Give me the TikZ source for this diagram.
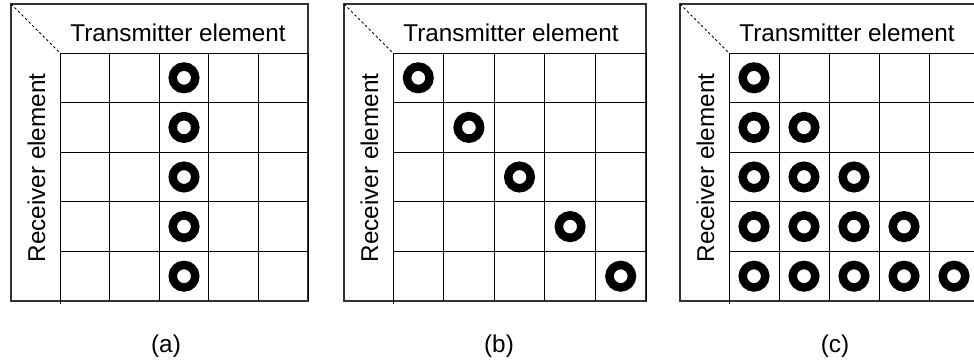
\documentclass[tikz,border=0pt]{standalone}
\usepackage{fontspec}
\setmainfont{Liberation Sans}
\tikzset{
  outerbox/.style={draw=black!80, line width=1.4pt},
  gridline/.style={draw=black, line width=0.9pt},
  diagline/.style={draw=black, line width=0.9pt, dash pattern=on 2.5pt off 2.5pt},
  ring/.style={circle, draw=black, line width=8.5pt, minimum size=22.5pt, inner sep=0pt},
  lbl/.style={font=\fontsize{24.3}{28}\selectfont, inner sep=0pt},
}
\newcommand\panelframe[3]{% #1 = outer left x, #2 = cell width, #3 = id
  \draw[outerbox] (#1,4) rectangle (#1+49+5*#2,301);
  \draw[diagline] (#1,4) -- (#1+49,53);
  \foreach \i in {1,...,5}{
    \draw[gridline] (#1+49+\i*#2,53) -- (#1+49+\i*#2,301);
  }
  \draw[gridline] (#1+49,53) -- (#1+49,304);
  \foreach \j in {0,...,4}{
    \draw[gridline] (#1+49,53+\j*49.6) -- (#1+49+5*#2,53+\j*49.6);
  }
  \node[lbl, anchor=base] (tx-#3) at (#1+167,42) {Transmitter element};
  \node[lbl, anchor=base, rotate=90] (rx-#3) at (#1+34,168) {Receiver element};
  \node[lbl, anchor=base] (cap-#3) at (#1+155,352) {(#3)};
}
\newcommand\ringat[5]{% #1 = outer left x, #2 = cell width, #3 = row, #4 = col, #5 = id
  \node[ring] (ring-#5-#3-#4) at (#1+49+#4*#2-0.5*#2, 53+#3*49.6-24.8) {};
}
\begin{document}
\begin{tikzpicture}[x=1pt,y=-1pt]
\useasboundingbox (0,0) rectangle (974,363);
\clip (0,0) rectangle (974,363);
% panel (a)
\panelframe{11}{49.6}{a}
\foreach \r in {1,...,5}{\ringat{11}{49.6}{\r}{3}{a}}
% panel (b)
\panelframe{344}{50.6}{b}
\foreach \r in {1,...,5}{\ringat{344}{50.6}{\r}{\r}{b}}
% panel (c)
\panelframe{680}{50}{c}
\foreach \r in {1,...,5}{
  \foreach \c in {1,...,\r}{\ringat{680}{50}{\r}{\c}{c}}
}
\end{tikzpicture}
\end{document}
